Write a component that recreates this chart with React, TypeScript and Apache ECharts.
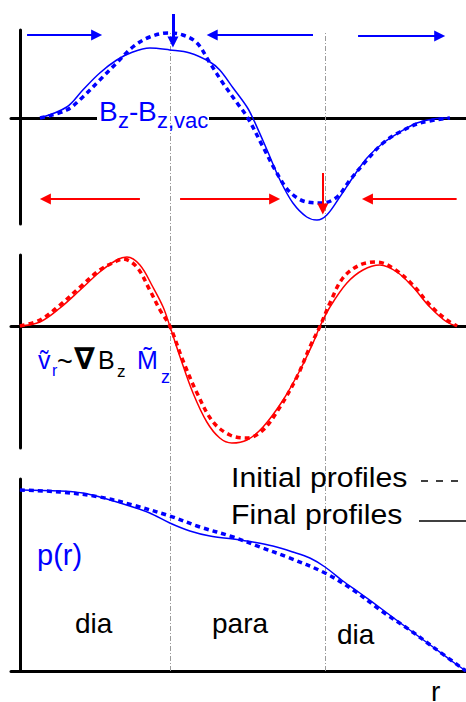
import React, { useEffect, useRef } from "react";
import * as echarts from "echarts";

// r axis (normalised radius), shared by all panels
const R_MIN = -0.02;
const R_MAX = 1.0;
const regionBoundaries = [0.336, 0.684];

// Panel 1: Bz - Bz,vac
const bzInitial: [number, number][] = [
  [0.045, 0], [0.105, 0.08], [0.141, 0.21], [0.179, 0.38], [0.217, 0.55], [0.253, 0.71],
  [0.291, 0.81], [0.332, 0.85], [0.365, 0.83], [0.397, 0.75], [0.426, 0.55], [0.455, 0.35],
  [0.487, 0.15], [0.511, 0], [0.545, -0.29], [0.576, -0.55], [0.605, -0.74], [0.643, -0.84],
  [0.677, -0.85], [0.711, -0.79], [0.74, -0.62], [0.778, -0.42], [0.814, -0.25], [0.852, -0.14],
  [0.897, -0.05], [0.964, 0],
];
const bzFinal: [number, number][] = [
  [0.045, 0], [0.105, 0.11], [0.141, 0.28], [0.179, 0.45], [0.217, 0.58], [0.253, 0.66],
  [0.291, 0.7], [0.336, 0.68], [0.381, 0.65], [0.426, 0.56], [0.448, 0.48], [0.478, 0.3],
  [0.509, 0.11], [0.522, 0], [0.554, -0.32], [0.583, -0.62], [0.612, -0.85], [0.643, -0.99],
  [0.666, -1.02], [0.688, -0.97], [0.717, -0.79], [0.747, -0.59], [0.778, -0.4], [0.814, -0.25],
  [0.852, -0.14], [0.89, -0.05], [0.926, -0.01], [0.964, 0],
];

// Panel 2: v_r ~ grad Bz, M_z
const vrInitial: [number, number][] = [
  [0, 0], [0.045, 0.06], [0.09, 0.21], [0.135, 0.39], [0.179, 0.56], [0.217, 0.65], [0.231, 0.67],
  [0.262, 0.59], [0.291, 0.36], [0.314, 0.16], [0.336, 0], [0.365, -0.34], [0.397, -0.67],
  [0.433, -0.96], [0.471, -1.09], [0.509, -1.12], [0.545, -1.04], [0.583, -0.81], [0.621, -0.51],
  [0.65, -0.21], [0.673, 0], [0.695, 0.23], [0.724, 0.48], [0.762, 0.61], [0.8, 0.64],
  [0.836, 0.58], [0.881, 0.41], [0.919, 0.21], [0.957, 0.06], [0.98, 0],
];
const vrFinal: [number, number][] = [
  [0, 0], [0.045, 0.04], [0.09, 0.18], [0.135, 0.36], [0.179, 0.54], [0.217, 0.66], [0.24, 0.69],
  [0.269, 0.61], [0.298, 0.39], [0.321, 0.19], [0.336, 0], [0.359, -0.31], [0.388, -0.67],
  [0.419, -0.96], [0.448, -1.12], [0.475, -1.17], [0.509, -1.14], [0.545, -1.01], [0.59, -0.74],
  [0.628, -0.44], [0.657, -0.17], [0.673, 0], [0.695, 0.19], [0.733, 0.43], [0.769, 0.56],
  [0.807, 0.61], [0.845, 0.54], [0.881, 0.39], [0.919, 0.19], [0.957, 0.04], [0.98, 0],
];

// Panel 3: pressure p(r)
const pInitial: [number, number][] = [
  [0, 1.81], [0.09, 1.79], [0.179, 1.74], [0.253, 1.66], [0.336, 1.55], [0.404, 1.44],
  [0.478, 1.34], [0.538, 1.24], [0.599, 1.14], [0.684, 0.98], [0.747, 0.81], [0.814, 0.59],
  [0.874, 0.41], [0.926, 0.24], [1.0, 0],
];
const pFinal: [number, number][] = [
  [0, 1.81], [0.09, 1.8], [0.141, 1.78], [0.179, 1.74], [0.253, 1.64], [0.291, 1.58],
  [0.336, 1.48], [0.381, 1.4], [0.426, 1.35], [0.478, 1.32], [0.522, 1.29], [0.567, 1.25],
  [0.612, 1.19], [0.65, 1.13], [0.684, 1.04], [0.724, 0.9], [0.762, 0.78], [0.814, 0.61],
  [0.874, 0.41], [0.926, 0.24], [0.971, 0.09], [1.0, 0],
];

// arrows in panel 1 coordinates: [from, to, width]
const blueArrows: [number[], number[], number][] = [
  [[0.016, 0.83], [0.172, 0.83], 2],
  [[0.657, 0.83], [0.431, 0.83], 2],
  [[0.758, 0.82], [0.941, 0.82], 2],
  [[0.343, 1.04], [0.343, 0.76], 3],
];
const redArrows: [number[], number[], number][] = [
  [[0.269, -0.81], [0.057, -0.81], 2],
  [[0.359, -0.81], [0.571, -0.81], 2],
  [[0.979, -0.81], [0.779, -0.81], 2],
  [[0.679, -0.55], [0.679, -0.91], 2],
];

const BLUE = "#0000ff";
const RED = "#ff0000";
const FONT = "Liberation Sans, Arial, sans-serif";

const grids = [
  { left: 11, top: 30, width: 455, height: 194 },
  { left: 11, top: 255, width: 455, height: 193 },
  { left: 11, top: 479, width: 455, height: 192 },
  { left: 11, top: 33, width: 455, height: 638 },
];
const yRanges = [
  [-1.06, 0.88],
  [-1.22, 0.71],
  [0, 1.92],
  [0, 1],
];

function txt(text: string, x: number, base: number, size: number, color: string, extra: any = {}) {
  const fam = extra.family || FONT;
  const weight = extra.weight || "normal";
  return {
    type: "text",
    z: 30,
    x,
    y: base - 0.35 * size,
    scaleX: extra.scaleX || 1,
    style: {
      text,
      fill: color,
      fontSize: size,
      fontFamily: fam,
      fontWeight: weight,
      font: `${weight} ${size}px ${fam}`,
      align: extra.align || "left",
      verticalAlign: "middle",
      textAlign: extra.align || "left",
      textVerticalAlign: "middle",
    },
  };
}

export default function App() {
  const ref = useRef<HTMLDivElement>(null);
  useEffect(() => {
    if (!ref.current) return;
    const chart = echarts.init(ref.current, null, { renderer: "svg" });
    const axisLine = { show: true, onZero: true, lineStyle: { color: "#000", width: 3 } };
    const xAxis = grids.map((_, i) => ({
      type: "value",
      gridIndex: i,
      min: R_MIN,
      max: R_MAX,
      show: i < 3,
      axisLine,
      axisTick: { show: false },
      axisLabel: { show: false },
      splitLine: { show: false },
    }));
    const yAxis = grids.map((_, i) => ({
      type: "value",
      gridIndex: i,
      min: yRanges[i][0],
      max: yRanges[i][1],
      show: i < 3,
      axisLine,
      axisTick: { show: false },
      axisLabel: { show: false },
      splitLine: { show: false },
    }));
    const curve = (data: any, gi: number, color: string, dashed: boolean) => ({
      type: "line",
      xAxisIndex: gi,
      yAxisIndex: gi,
      data,
      smooth: 0.35,
      symbol: "none",
      showSymbol: false,
      silent: true,
      z: dashed ? 3 : 4,
      lineStyle: dashed
        ? { color, width: 3.5, type: [5, 4] }
        : { color, width: 1.5, type: "solid" },
    });
    const arrows = (list: any[], color: string) => ({
      type: "lines",
      coordinateSystem: "cartesian2d",
      xAxisIndex: 0,
      yAxisIndex: 0,
      clip: false,
      symbol: ["none", "triangle"],
      symbolSize: 11,
      silent: true,
      z: 6,
      lineStyle: { color, width: 2, opacity: 1 },
      data: list.map(([a, b, w]) => ({ coords: [a, b], lineStyle: { width: w, color, opacity: 1 } })),
    });
    const option: any = {
      animation: false,
      backgroundColor: "#fff",
      grid: grids.map((g) => ({ ...g, containLabel: false })),
      xAxis,
      yAxis,
      series: [
        {
          type: "lines",
          coordinateSystem: "cartesian2d",
          xAxisIndex: 3,
          yAxisIndex: 3,
          silent: true,
          z: 2,
          lineStyle: { color: "#9a9a9a", width: 1, type: [5, 2, 1, 2], opacity: 1 },
          data: regionBoundaries.map((r) => ({ coords: [[r, 0], [r, 1]] })),
        },
        curve(bzInitial, 0, BLUE, true),
        curve(bzFinal, 0, BLUE, false),
        curve(vrInitial, 1, RED, true),
        curve(vrFinal, 1, RED, false),
        curve(pInitial, 2, BLUE, true),
        curve(pFinal, 2, BLUE, false),
        arrows(blueArrows, BLUE),
        arrows(redArrows, RED),
      ],
      graphic: [
        { type: "rect", z: 1, shape: { x: 97, y: 114, width: 112, height: 8 }, style: { fill: "#fff" } },
        // Bz - Bz,vac
        txt("B", 99, 121, 28, BLUE),
        txt("z", 118, 128, 22, BLUE),
        txt("-", 129, 121, 28, BLUE),
        txt("B", 138, 121, 28, BLUE),
        txt("z,vac", 157, 128, 22, BLUE),
        // v_r ~ grad Bz  M_z
        txt("\u1E7D", 38, 369, 25, BLUE),
        txt("r", 52, 376, 16, BLUE),
        txt("~", 57, 371, 27, "#000"),
        txt("\u2207", 74, 369, 30, "#000", { family: "DejaVu Sans, sans-serif", weight: "bold" }),
        txt("B", 98, 369, 25, "#000"),
        txt("z", 117, 377, 17, "#000"),
        txt("M\u0303", 137, 369, 25, BLUE),
        txt("z", 161, 383, 18, BLUE),
        // legend
        txt("Initial profiles", 231, 487, 27, "#000", { scaleX: 1.12 }),
        txt("Final profiles", 231, 524, 27, "#000", { scaleX: 1.12 }),
        {
          type: "line", z: 30,
          shape: { x1: 421, y1: 481, x2: 466, y2: 481 },
          style: { stroke: "#000", lineWidth: 1.5, lineDash: [7, 8] },
        },
        {
          type: "line", z: 30,
          shape: { x1: 419, y1: 521, x2: 466, y2: 521 },
          style: { stroke: "#000", lineWidth: 1.5 },
        },
        // panel 3 labels
        txt("p(r)", 37, 565, 29, BLUE),
        txt("dia", 75, 633, 28, "#000"),
        txt("para", 212, 633, 28, "#000"),
        txt("dia", 337, 644, 28, "#000"),
        txt("r", 431, 701, 28, "#000"),
      ],
    };
    chart.setOption(option);
    return () => chart.dispose();
  }, []);
  return (
    <div
      ref={ref}
      style={{ position: "fixed", left: 0, top: 0, width: 466, height: 702, background: "#fff" }}
    />
  );
}
